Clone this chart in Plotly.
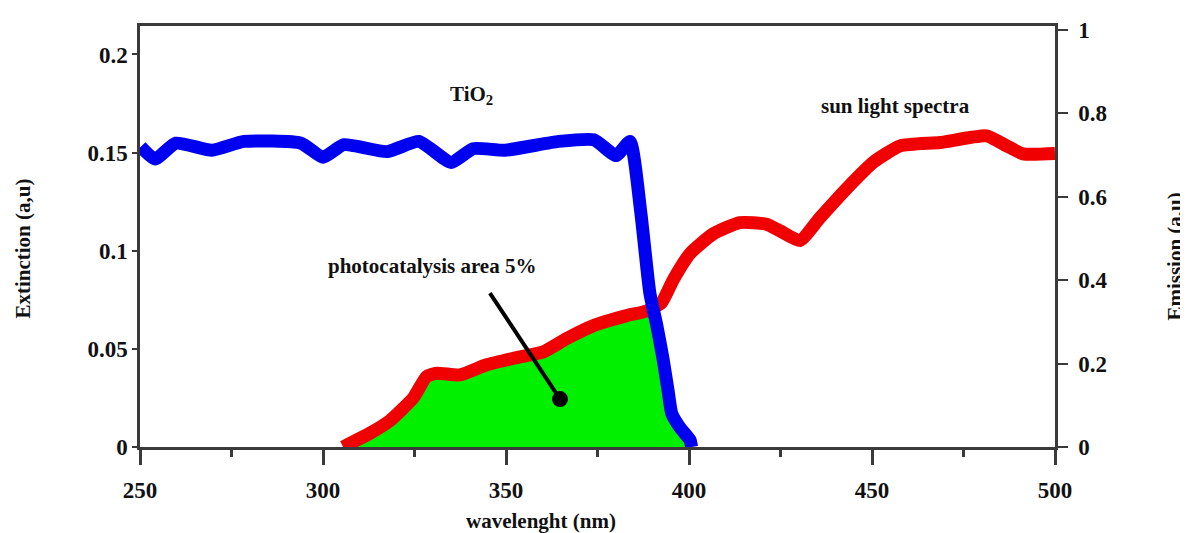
import numpy as np
import plotly.graph_objects as go

# ---- data ----
# TiO2 extinction (left axis)
tio2_wl = [250.2, 254.1, 259.8, 269.7, 278.4, 294.0, 300.0, 305.7, 317.5, 326.2,
           335.0, 341.0, 349.7, 364.4, 374.0, 380.1, 383.9, 386.8, 389.3, 391.2,
           392.9, 394.3, 395.3, 397.5, 400.3, 400.7]
tio2_ext = [0.153, 0.1467, 0.1548, 0.1512, 0.1557, 0.1548, 0.1476, 0.154, 0.1505, 0.1557,
            0.145, 0.152, 0.1512, 0.1557, 0.1565, 0.1485, 0.1557, 0.120, 0.0785, 0.062,
            0.045, 0.0285, 0.017, 0.010, 0.0035, 0.0]

# sun light spectrum emission (right axis)
sun_wl = [305.5, 312.8, 318.3, 324.7, 328.3, 331.1, 337.4, 344.7, 353.8, 360.2,
          366.6, 373.9, 383.0, 388.4, 392.5, 395.7, 400.3, 406.6, 413.9, 421.2,
          424.9, 430.3, 435.8, 443.1, 450.4, 457.7, 468.6, 481.3, 486.8, 491.3, 500.0]
sun_em = [0.0, 0.033, 0.0635, 0.118, 0.169, 0.177, 0.173, 0.197, 0.216, 0.228,
          0.260, 0.291, 0.315, 0.326, 0.346, 0.401, 0.464, 0.511, 0.538, 0.534,
          0.518, 0.495, 0.550, 0.620, 0.683, 0.722, 0.730, 0.746, 0.722, 0.703, 0.704]

x_ticks = [250, 300, 350, 400, 450, 500]
ext_ticks = [0, 0.05, 0.1, 0.15, 0.2]
em_ticks = [0, 0.2, 0.4, 0.6, 0.8, 1]

EXT_RANGE = [0, 0.2145]
EM_RANGE = [0, 1.0094]

FONT = "Liberation Serif"
RED = "#f00000"
BLUE = "#0000f0"
GREEN = "#00f000"
AXC = "#3a3a3a"

# ---- photocatalysis area: below both curves (in emission units) ----
conv = EM_RANGE[1] / EXT_RANGE[1]
grid = np.linspace(sun_wl[0], tio2_wl[-1], 300)
top = np.minimum(np.interp(grid, sun_wl, sun_em),
                 np.interp(grid, tio2_wl, tio2_ext) * conv)

fig = go.Figure()
fig.add_trace(go.Scatter(x=grid, y=top, mode="lines", fill="tozeroy",
                         fillcolor=GREEN, line=dict(width=0, color=GREEN),
                         yaxis="y", hoverinfo="skip", showlegend=False))
fig.add_trace(go.Scatter(x=sun_wl, y=sun_em, mode="lines",
                         line=dict(color=RED, width=13, shape="spline", smoothing=0.5),
                         yaxis="y", showlegend=False))
# pointer dot
fig.add_trace(go.Scatter(x=[364.75], y=[0.115], mode="markers",
                         marker=dict(color="black", size=16),
                         yaxis="y", showlegend=False))
fig.add_trace(go.Scatter(x=tio2_wl, y=tio2_ext, mode="lines",
                         line=dict(color=BLUE, width=13, shape="spline", smoothing=0.5),
                         yaxis="y2", showlegend=False))

tickfont = dict(family=FONT, size=23, color="#111", weight="bold")

# page body has an 8px margin: figure is sized so it fills the window exactly
fig.update_layout(
    width=1180, height=525,
    margin=dict(l=132, r=133, t=10, b=86),
    paper_bgcolor="white", plot_bgcolor="white",
    xaxis=dict(range=[250, 500], tickvals=x_ticks, showgrid=False, zeroline=False,
               showline=True, linecolor=AXC, linewidth=2.5, mirror=True,
               ticks="outside", ticklen=15, tickwidth=2.5, tickcolor=AXC,
               ticklabelstandoff=6,
               minor=dict(dtick=25, tick0=250, ticks="outside", ticklen=7,
                          tickwidth=2.5, tickcolor=AXC),
               tickfont=tickfont),
    yaxis=dict(range=EM_RANGE, tickvals=em_ticks, side="right", showgrid=False,
               zeroline=False, showline=True, linecolor=AXC, linewidth=2.5,
               ticks="outside", ticklen=10, tickwidth=2, tickcolor=AXC,
               ticklabelstandoff=6, tickfont=tickfont),
    yaxis2=dict(range=EXT_RANGE, tickvals=ext_ticks, side="left", overlaying="y",
                anchor="x", showgrid=False, zeroline=False, showline=True,
                linecolor=AXC, linewidth=2.5, ticks="outside", ticklen=5,
                tickwidth=2, tickcolor=AXC, tickfont=tickfont),
)

bold = dict(family=FONT, size=21, color="#111", weight="bold")
fig.add_annotation(text="wavelenght (nm)", xref="paper", yref="paper",
                   x=0.438, y=-0.175, showarrow=False, font=bold,
                   xanchor="center", yanchor="middle")
fig.add_annotation(text="Extinction (a,u)", xref="paper", yref="paper",
                   x=-0.128, y=0.471, showarrow=False, font=bold, textangle=-90,
                   xanchor="center", yanchor="middle")
fig.add_annotation(text="Emission (a,u)", xref="paper", yref="paper",
                   x=1.131, y=0.452, showarrow=False, font=bold, textangle=-90,
                   xanchor="center", yanchor="middle")
fig.add_annotation(text="TiO<sub>2</sub>", xref="x", yref="paper",
                   x=340.7, y=0.837, showarrow=False, font=bold,
                   xanchor="center", yanchor="middle")
fig.add_annotation(text="sun light spectra", xref="x", yref="paper",
                   x=456.3, y=0.811, showarrow=False, font=bold,
                   xanchor="center", yanchor="middle")
fig.add_annotation(text="photocatalysis area 5%", xref="x", yref="paper",
                   x=329.8, y=0.431, showarrow=False, font=bold,
                   xanchor="center", yanchor="middle")
fig.add_shape(type="line", xref="x", yref="y", x0=345.6, y0=0.369, x1=364.75, y1=0.115,
              line=dict(color="black", width=4))

fig.write_html("out.html")
